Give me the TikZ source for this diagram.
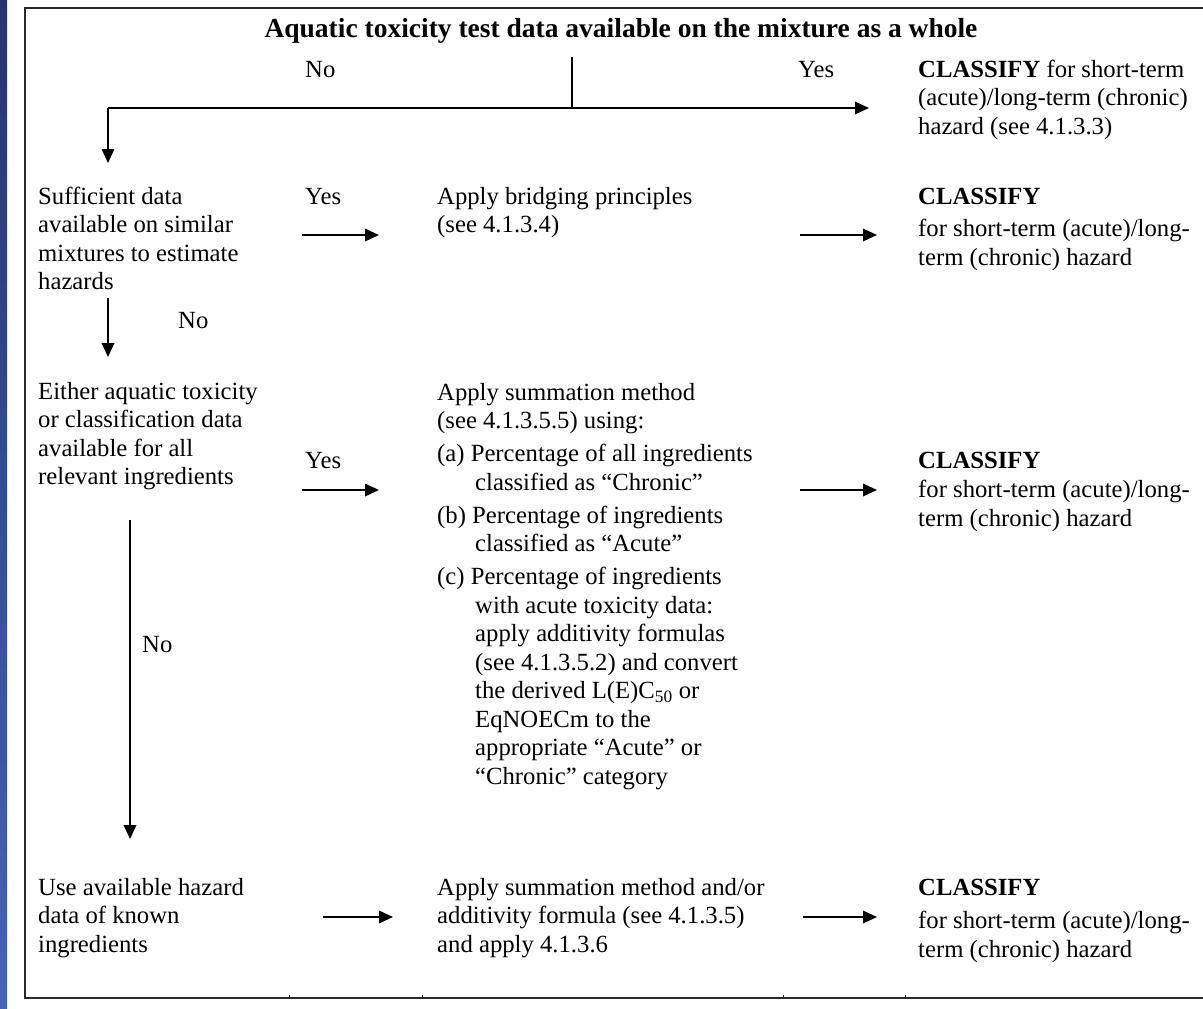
\documentclass[tikz,border=0pt]{standalone}
\usepackage{fontspec}
\setmainfont{Liberation Serif}
\usetikzlibrary{arrows.meta}
\definecolor{stripTop}{HTML}{28336E}
\definecolor{stripBot}{HTML}{4763B3}
\definecolor{frameC}{HTML}{2A2A2A}
\newcommand{\fs}{\fontsize{24.7}{28.5}\selectfont}
\begin{document}
\begin{tikzpicture}[x=1pt,y=-1pt,
  txt/.style={anchor=north west,inner sep=0pt,align=left,font=\fs},
  lbl/.style={anchor=base west,inner sep=0pt,font=\fs},
  arr/.style={line width=1.8pt,-{Triangle[length=14pt,width=12.5pt]}},
  ln/.style={line width=1.8pt},
  frame/.style={line width=2.4pt,frameC}]
\useasboundingbox (0,0) rectangle (1203,1009);
\fill[white] (0,0) rectangle (1203,1009);
\shade[top color=stripTop,bottom color=stripBot] (0,0) rectangle (7,1009);
% frame
\draw[frame] (1203,8) -- (25,8) -- (25,998) -- (1203,998);
\foreach \tx in {289,422,783,905}{\draw[line width=1pt,frameC] (\tx,998) -- (\tx,995);}

% texts
\node[anchor=base,inner sep=0pt,font=\fontsize{27.5}{30}\selectfont\bfseries] (title) at (621,37) {Aquatic toxicity test data available on the mixture as a whole};
\node[lbl] (noTop) at (305,77) {No};
\node[lbl] (yesTop) at (798,77) {Yes};
\node[txt] (cls1) at (918,57) {\strut\textbf{CLASSIFY} for short-term\\(acute)/long-term (chronic)\\hazard (see 4.1.3.3)};

\node[txt] (suff) at (38,184) {\strut Sufficient data\\available on similar\\mixtures to estimate\\hazards};
\node[lbl] (yes2) at (305,204) {Yes};
\node[txt] (bridge) at (437,184) {\strut Apply bridging principles\\(see 4.1.3.4)};
\node[txt] (cls2) at (918,184) {\strut\textbf{CLASSIFY}\\[4pt]for short-term (acute)/long-\\term (chronic) hazard};
\node[lbl] (no2) at (178,328) {No};

\node[txt] (either) at (38,379) {\strut Either aquatic toxicity\\or classification data\\available for all\\relevant ingredients};
\node[lbl] (yes3) at (305,468) {Yes};
\node[txt] (summ) at (437,380) {\strut Apply summation method\\(see 4.1.3.5.5) using:\\[4.5pt]
(a) Percentage of all ingredients\\\hspace*{38pt}classified as “Chronic”\\[4.5pt]
(b) Percentage of ingredients\\\hspace*{38pt}classified as “Acute”\\[4.5pt]
(c) Percentage of ingredients\\\hspace*{38pt}with acute toxicity data:\\\hspace*{38pt}apply additivity formulas\\\hspace*{38pt}(see 4.1.3.5.2) and convert\\\hspace*{38pt}the derived L(E)C\textsubscript{50} or\\\hspace*{38pt}EqNOECm to the\\\hspace*{38pt}appropriate “Acute” or\\\hspace*{38pt}“Chronic” category};
\node[txt] (cls3) at (918,448) {\strut\textbf{CLASSIFY}\\[1pt]for short-term (acute)/long-\\term (chronic) hazard};
\node[lbl] (no3) at (142,652) {No};

\node[txt] (use) at (38,875) {\strut Use available hazard\\data of known\\ingredients};
\node[txt] (summ4) at (437,875) {\strut Apply summation method and/or\\additivity formula (see 4.1.3.5)\\and apply 4.1.3.6};
\node[txt] (cls4) at (918,875) {\strut\textbf{CLASSIFY}\\[5pt]for short-term (acute)/long-\\term (chronic) hazard};

% connector coordinates
\coordinate (split) at (572,57);
\coordinate (splitB) at (572,108);
\coordinate (corner) at (108,108);
\coordinate (tipR) at (869,108);
\coordinate (tipD) at (108,163);
\coordinate (r2a) at (302,235); \coordinate (r2b) at (379,235);
\coordinate (r2c) at (800,235); \coordinate (r2d) at (877,235);
\coordinate (d2a) at (108,298); \coordinate (d2b) at (108,357);
\coordinate (r3a) at (302,490); \coordinate (r3b) at (379,490);
\coordinate (r3c) at (800,490); \coordinate (r3d) at (877,490);
\coordinate (d3a) at (130,520); \coordinate (d3b) at (130,839);
\coordinate (r4a) at (323,917); \coordinate (r4b) at (393,917);
\coordinate (r4c) at (803,917); \coordinate (r4d) at (877,917);

\draw[ln] (split) -- (splitB);
\draw[arr] (corner) -- (tipR);
\draw[arr] (corner) -- (tipD);
\draw[arr] (r2a) -- (r2b);
\draw[arr] (r2c) -- (r2d);
\draw[arr] (d2a) -- (d2b);
\draw[arr] (r3a) -- (r3b);
\draw[arr] (r3c) -- (r3d);
\draw[arr] (d3a) -- (d3b);
\draw[arr] (r4a) -- (r4b);
\draw[arr] (r4c) -- (r4d);
\end{tikzpicture}
\end{document}
